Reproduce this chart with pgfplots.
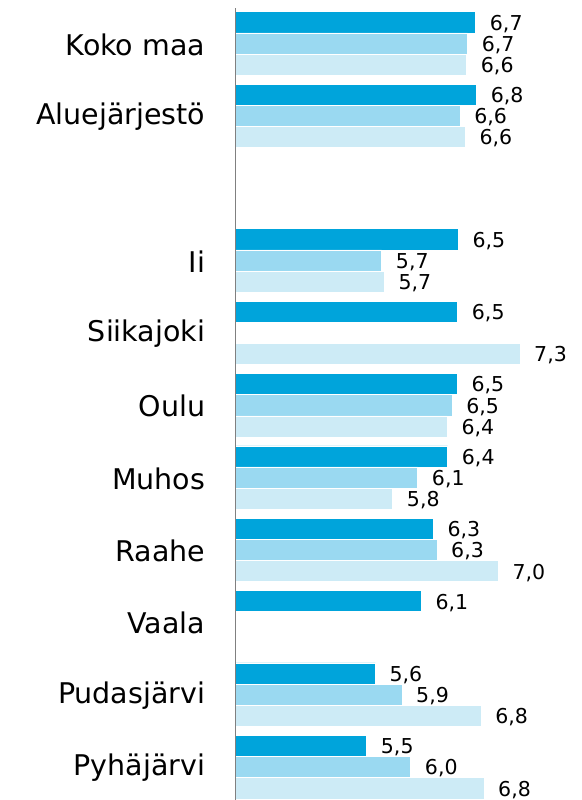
\documentclass[border=0pt]{standalone}
\usepackage{pgfplots}
\usepackage{pgfplotstable}
\pgfplotsset{compat=1.18}
\usepackage{fontspec}
\setmainfont{DejaVu Sans}
\definecolor{cDark}{HTML}{00A4DB}
\definecolor{cMid}{HTML}{9AD9F1}
\definecolor{cLight}{HTML}{CDEBF6}
\definecolor{cAxis}{HTML}{808080}
% x = value, y = slot (0 = Pyhäjärvi at bottom), lab = printed value
\pgfplotstableread{
x y lab
6.744 10 6,7
6.755 9 6,8
6.551 7 6,5
6.544 6 6,5
6.540 5 6,5
6.433 4 6,4
6.273 3 6,3
6.140 2 6,1
5.629 1 5,6
5.533 0 5,5
}\darkdata
\pgfplotstableread{
x y lab
6.655 10 6,7
6.570 9 6,6
5.700 7 5,7
6.481 5 6,5
6.100 4 6,1
6.314 3 6,3
5.925 1 5,9
6.022 0 6,0
}\middata
\pgfplotstableread{
x y lab
6.644 10 6,6
6.629 9 6,6
5.729 7 5,7
7.236 6 7,3
6.429 5 6,4
5.822 4 5,8
6.995 3 7,0
6.803 1 6,8
6.836 0 6,8
}\lightdata
\begin{document}
\begin{tikzpicture}
\begin{axis}[
  name=ax,
  scale only axis,
  width=345.7pt, height=792pt,
  xmin=4.073, xmax=7.914,
  ymin=-0.456, ymax=10.49,
  xbar, bar width=21.2pt,
  axis on top,
  axis x line=none,
  axis y line=left,
  y axis line style={-, draw=cAxis, line width=0.9pt},
  major tick length=0pt,
  ytick={0,1,2,3,4,5,6,7,9,10},
  yticklabels={Pyhäjärvi,Pudasjärvi,Vaala,Raahe,Muhos,Oulu,Siikajoki,Ii,Aluejärjestö,Koko maa},
  yticklabel style={font=\fontsize{28.5}{30}\selectfont, inner sep=0pt, xshift=-30pt, yshift=-1pt},
  clip=false,
  point meta=explicit symbolic,
  nodes near coords,
  every node near coord/.append style={font=\fontsize{20.5}{22}\selectfont, anchor=west, inner sep=0pt, xshift=14pt, yshift=-1.5pt, text=black},
]
\addplot[fill=cDark, draw=white, line width=0.5pt, bar shift=21.2pt] table[x=x, y=y, meta=lab] {\darkdata};
\addplot[fill=cMid, draw=white, line width=0.5pt, bar shift=0pt] table[x=x, y=y, meta=lab] {\middata};
\addplot[fill=cLight, draw=white, line width=0.5pt, bar shift=-21.2pt] table[x=x, y=y, meta=lab] {\lightdata};
\end{axis}
\pgfresetboundingbox
\path ([xshift=-235.3pt]ax.south west) rectangle ([yshift=8pt]ax.north east);
\end{tikzpicture}
\end{document}
